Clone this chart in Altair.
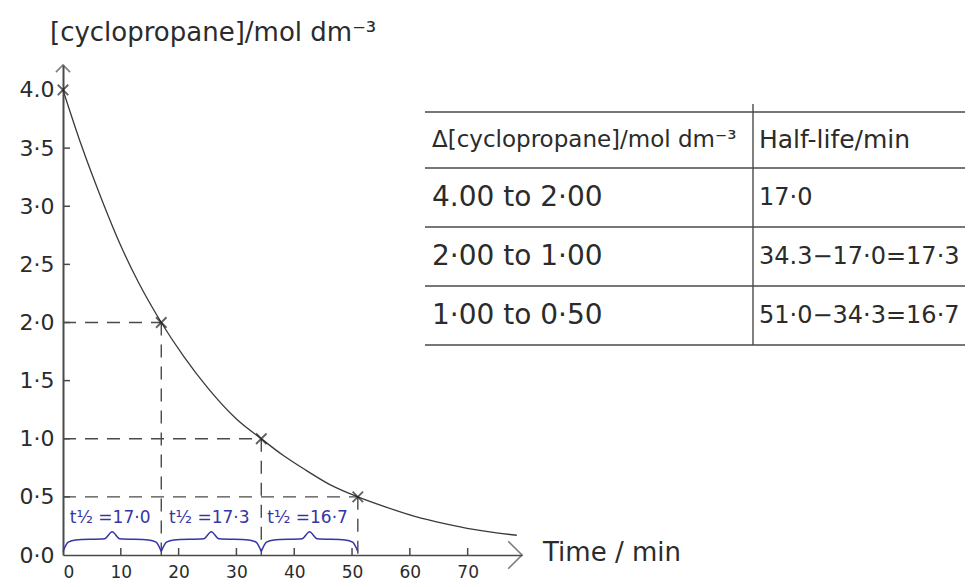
import altair as alt
import pandas as pd

# Concentration of cyclopropane
time_min = [0, 3, 7, 10, 13, 17, 21, 25, 30, 34.3, 38, 42, 46, 51, 56, 61, 66, 71, 75, 78.5]
conc = [4.00, 3.55, 3.02, 2.66, 2.35, 2.00, 1.70, 1.44, 1.17, 1.00, 0.86, 0.73, 0.61,
        0.50, 0.41, 0.33, 0.27, 0.22, 0.19, 0.17]

# Readings marked with crosses (each one half of the previous concentration)
mark_time = [0, 17.0, 34.3, 51.0]
mark_conc = [4.00, 2.00, 1.00, 0.50]

# Successive half-lives
half_start = [0, 17.0, 34.3]
half_end = [17.0, 34.3, 51.0]
half_life = [17.0, 17.3, 16.7]

# Axis ticks
x_tick_values = [0, 10, 20, 30, 40, 50, 60, 70]
y_tick_values = [0.0, 0.5, 1.0, 1.5, 2.0, 2.5, 3.0, 3.5, 4.0]
y_tick_labels = ["0·0", "0·5", "1·0", "1·5", "2·0", "2·5", "3·0", "3·5", "4.0"]

# Half-life table
table_col1 = ["Δ[cyclopropane]/mol dm⁻³", "4.00 to 2·00", "2·00 to 1·00", "1·00 to 0·50"]
table_col2 = ["Half-life/min", "17·0", "34.3−17·0=17·3", "51·0−34·3=16·7"]

y_title = "[cyclopropane]/mol dm⁻³"
x_title = "Time / min"

# ---- styling / layout ----
FONT = "DejaVu Sans"
INK = "#2b2b2b"
LINE = "#4a4a4a"
BLUE = "#3535a8"
X_END = 79.4
Y_END = 4.215
PX_PER_MIN = 5.78
PX_PER_UNIT = 116.25
W = round(X_END * PX_PER_MIN)
H = round(Y_END * PX_PER_UNIT)

xs = alt.Scale(domain=[0, X_END], nice=False, zero=False)
ys = alt.Scale(domain=[0, Y_END], nice=False, zero=False)
label_js = "[" + ",".join(f"'{s}'" for s in y_tick_labels) + "][round(datum.value*2)]"
x_axis = alt.Axis(values=x_tick_values, ticks=False, grid=False, title=None, format="d",
                  domainColor=LINE, domainWidth=1.6, labelFont=FONT, labelFontSize=17,
                  labelColor=INK, labelPadding=9)
y_axis = alt.Axis(values=y_tick_values, ticks=False, grid=False, title=None,
                  labelExpr=label_js, domainColor=LINE, domainWidth=2,
                  labelFont=FONT, labelFontSize=22, labelColor=INK, labelPadding=9)


def X(f):
    return alt.X(f, type="quantitative", scale=xs, axis=x_axis)


def Y(f):
    return alt.Y(f, type="quantitative", scale=ys, axis=y_axis)


curve_df = pd.DataFrame({"t": time_min, "c": conc})
marks_df = pd.DataFrame({"t": mark_time, "c": mark_conc})
guides_df = marks_df.iloc[1:].assign(x0=0.0, y0=0.0)

curve = alt.Chart(curve_df).mark_line(interpolate="monotone", color="#3a3a3a",
                                      strokeWidth=1.3).encode(x=X("t"), y=Y("c"))

crosses = alt.Chart(marks_df).mark_point(
    shape="M-1,-1L1,1M-1,1L1,-1", size=110, filled=False, color="#1e1e1e", strokeWidth=1.8
).encode(x=X("t"), y=Y("c"))

dash = [13, 9]
h_guides = alt.Chart(guides_df).mark_rule(color=LINE, strokeWidth=1.4, strokeDash=dash).encode(
    x=X("x0"), x2="t", y=Y("c"))
v_guides = alt.Chart(guides_df).mark_rule(color=LINE, strokeWidth=1.4, strokeDash=dash).encode(
    x=X("t"), y=Y("c"), y2="y0")

# inward tick marks
ytk = pd.DataFrame({"v": y_tick_values[1:-1]}).assign(a=0.0, b=7 / PX_PER_MIN)
xtk = pd.DataFrame({"v": x_tick_values[1:]}).assign(a=0.0, b=7 / PX_PER_UNIT)
y_ticks = alt.Chart(ytk).mark_rule(color=LINE, strokeWidth=1.5).encode(x=X("a"), x2="b", y=Y("v"))
x_ticks = alt.Chart(xtk).mark_rule(color=LINE, strokeWidth=1.5).encode(x=X("v"), y=Y("a"), y2="b")

# arrow heads at the ends of the axes
arrow_y = alt.Chart(pd.DataFrame({"t": [0.0], "c": [Y_END]})).mark_point(
    shape="M-1,1L0,0L1,1", size=200, filled=False, color=LINE, strokeWidth=1.6
).encode(x=X("t"), y=Y("c"))
arrow_x = alt.Chart(pd.DataFrame({"t": [X_END], "c": [0.0]})).mark_point(
    shape="M-1,-1L0,0L-1,1", size=760, filled=False, color=LINE, strokeWidth=1.6
).encode(x=X("t"), y=Y("c"))

# curly braces under each half-life interval
rows = []
for k, (a, b) in enumerate(zip(half_start, half_end)):
    m = (a + b) / 2
    pts = [(a, 0.03), (a + 0.9, 0.11), (a + 2.2, 0.13), (m - 1.3, 0.14), (m, 0.20),
           (m + 1.3, 0.14), (b - 2.2, 0.13), (b - 0.9, 0.11), (b, 0.03)]
    for i, (t, c) in enumerate(pts):
        rows.append({"k": k, "i": i, "t": t, "c": c})
braces = alt.Chart(pd.DataFrame(rows)).mark_line(
    interpolate="monotone", color=BLUE, strokeWidth=1.5
).encode(x=X("t"), y=Y("c"), detail="k:N", order="i:Q")

hl_df = pd.DataFrame({
    "m": [(a + b) / 2 for a, b in zip(half_start, half_end)],
    "y": [0.32] * 3,
    "txt": ["t½ =" + f"{v:.1f}".replace(".", "·") for v in half_life],
})
hl_text = alt.Chart(hl_df).mark_text(font=FONT, fontSize=17, color=BLUE, dx=-2).encode(
    x=X("m"), y=Y("y"), text="txt:N")

# titles and table, placed in pixels relative to the plot origin
one = pd.DataFrame({"a": [0]})


def label(text, x, y, size, align="left"):
    return alt.Chart(one).mark_text(font=FONT, fontSize=size, color=INK, align=align,
                                    baseline="middle").encode(
        x=alt.value(x), y=alt.value(y), text=alt.value(text))


def hline(x0, x1, y):
    return alt.Chart(one).mark_rule(color=LINE, strokeWidth=1.4).encode(
        x=alt.value(x0), x2=alt.value(x1), y=alt.value(y))


TX0, TX1, TDIV = 362, 902, 690
T_TOP, HEAD_H, ROW_H = 47, 56, 59
row_lines = [T_TOP, T_TOP + HEAD_H] + [T_TOP + HEAD_H + ROW_H * (i + 1) for i in range(3)]
table_layers = [hline(TX0, TX1, y) for y in row_lines]
table_layers.append(alt.Chart(one).mark_rule(color=LINE, strokeWidth=1.4).encode(
    x=alt.value(TDIV), y=alt.value(T_TOP - 8), y2=alt.value(row_lines[-1])))
centers = [T_TOP + HEAD_H / 2] + [T_TOP + HEAD_H + ROW_H * (i + 0.5) for i in range(3)]
for i, (c1, c2) in enumerate(zip(table_col1, table_col2)):
    table_layers.append(label(c1, TX0 + 7, centers[i], 23 if i == 0 else 28))
    table_layers.append(label(c2, TDIV + 6, centers[i], 25 if i == 0 else 24))

titles = [label(y_title, -13, -32, 26), label(x_title, 480, 488, 26)]

chart = alt.layer(
    h_guides, v_guides, y_ticks, x_ticks, curve, crosses, braces, hl_text,
    arrow_y, arrow_x, *titles, *table_layers
).properties(
    width=W, height=H,
    autosize=alt.AutoSizeParams(type="none"),
    padding={"left": 63, "top": 65, "right": 979 - 63 - W, "bottom": 587 - 65 - H},
    background="white",
).configure_view(stroke=None)

chart.save("out.html", embed_options={"renderer": "svg", "actions": False})
